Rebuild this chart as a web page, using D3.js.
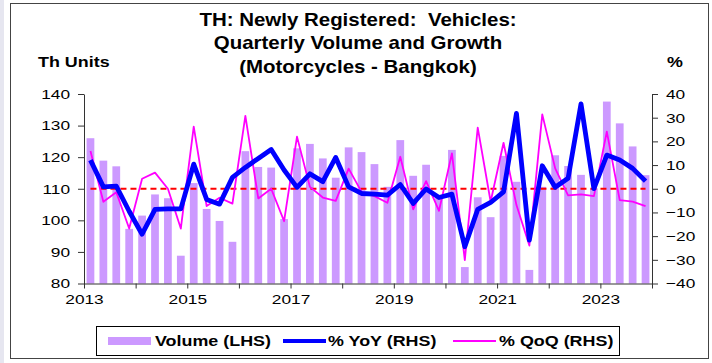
<!DOCTYPE html>
<html>
<head>
<meta charset="utf-8">
<script src="https://cdn.jsdelivr.net/npm/d3@7"></script>
<style>
  html, body { margin: 0; padding: 0; background: #ffffff; }
  svg { display: block; font-family: "Liberation Sans", Arial, sans-serif; }
  text { white-space: pre; }
</style>
</head>
<body>
<svg id="chart" width="712" height="363"></svg>
<script>
// Quarterly series, 2013 Q1 .. 2023 Q4
const quarters = d3.range(44);
const volume = [126.0, 118.9, 117.1, 97.3, 101.5, 108.2, 107.0, 88.8,
                111.8, 103.6, 99.8, 93.2, 121.9, 116.9, 116.7, 100.4,
                122.8, 124.2, 119.6, 113.5, 123.1, 121.6, 117.8, 110.6,
                125.4, 114.1, 117.6, 108.0, 122.3, 85.2, 107.3, 101.0,
                120.4, 112.2, 84.3, 110.6, 120.6, 117.2, 114.4, 110.1,
                137.6, 130.7, 123.4, 114.3];
const yoy = [12.1, 0.8, 1.1, -9.5, -19.2, -8.7, -8.5, -8.5,
             10.4, -4.5, -6.5, 4.8, 9.0, 12.8, 16.6, 7.9,
             0.6, 6.3, 3.0, 13.2, 0.8, -2.0, -2.3, -2.7,
             1.8, -6.2, -0.1, -3.7, -2.3, -24.5, -8.7, -5.8,
             -1.3, 31.8, -21.7, 9.7, 0.6, 4.4, 35.8, 0.1,
             14.2, 12.1, 8.6, 3.2];
const qoq = [15.9, -5.5, -1.5, -16.8, 4.2, 6.8, 0.0, -16.8,
             26.2, -7.3, -3.8, -6.3, 30.8, -4.1, 0.0, -13.7,
             22.0, 0.8, -3.7, -5.1, 8.5, -1.3, -3.1, -5.9,
             13.5, -8.7, 3.2, -9.3, 14.9, -30.1, 25.8, -5.5,
             19.4, -6.9, -24.0, 31.4, 8.6, -2.8, -2.4, -3.1,
             24.1, -4.8, -5.4, -7.3];
const zeroLine = quarters.map(() => 0);

const leftTicks = [80, 90, 100, 110, 120, 130, 140];
const rightTicks = [-40, -30, -20, -10, 0, 10, 20, 30, 40];
const yearTicks = d3.range(2013, 2025);
const yearLabels = [2013, 2015, 2017, 2019, 2021, 2023];

const titleLines = ["TH: Newly Registered:  Vehicles:",
                    "Quarterly Volume and Growth",
                    "(Motorcycles - Bangkok)"];

const svg = d3.select("#chart");
const plotL = 84, plotR = 652, plotT = 94, plotB = 283.5;
const SX = 1.28;      // horizontal text stretch
const SX_TITLE = 1.17;

// place text widened by s while keeping its anchor point at x
const wide = (sel, xPos, s = SX) => sel.attr("x", xPos / s).attr("transform", `scale(${s},1)`);

// page edge and frame
svg.append("rect").attr("x", 0).attr("y", 0).attr("width", 4).attr("height", 363)
  .attr("fill", "#e6e6f0");
svg.append("rect").attr("x", 10.5).attr("y", 3.5).attr("width", 698).attr("height", 355)
  .attr("fill", "#ffffff").attr("stroke", "#444").attr("stroke-width", 1);

// scales
const x = d3.scaleBand().domain(quarters).range([plotL, plotR])
  .paddingInner(0.4).paddingOuter(0.2);
const cx = i => x(i) + x.bandwidth() / 2;
const yL = d3.scaleLinear().domain([80, 140]).range([plotB, plotT]);
const yR = d3.scaleLinear().domain([-40, 40]).range([plotB, plotT]);
const xt = d3.scaleLinear().domain([2013, 2024]).range([plotL, plotR]);

// bars
svg.append("g").selectAll("rect").data(quarters).join("rect")
  .attr("x", i => x(i)).attr("width", x.bandwidth())
  .attr("y", i => yL(volume[i])).attr("height", i => plotB - yL(volume[i]))
  .attr("fill", "#cc99ff");

// zero reference
svg.append("path").datum(quarters)
  .attr("d", d3.line().x(cx).y(i => yR(zeroLine[i])))
  .attr("fill", "none").attr("stroke", "#ff0000").attr("stroke-width", 2)
  .attr("stroke-dasharray", "6,4");

// QoQ line
svg.append("path").datum(quarters)
  .attr("d", d3.line().x(cx).y(i => yR(qoq[i])))
  .attr("fill", "none").attr("stroke", "#ff00ff").attr("stroke-width", 1.8)
  .attr("stroke-linejoin", "round");

// YoY line
svg.append("path").datum(quarters)
  .attr("d", d3.line().x(cx).y(i => yR(yoy[i])))
  .attr("fill", "none").attr("stroke", "#0000ff").attr("stroke-width", 4.8)
  .attr("stroke-linejoin", "round");

// axes
const styleAxis = g => {
  g.select(".domain").attr("stroke", "#333");
  g.selectAll(".tick line").attr("stroke", "#333");
  g.selectAll(".tick text").attr("fill", "#000").attr("font-size", 13.5)
    .attr("font-family", "Liberation Sans, Arial, sans-serif")
    .each(function () {
      const t = d3.select(this);
      wide(t, +t.attr("x") || 0);
    });
};
svg.append("g").attr("transform", `translate(${plotL},0)`)
  .call(d3.axisLeft(yL).tickValues(leftTicks).tickSize(6).tickSizeOuter(0).tickPadding(8))
  .call(styleAxis);
svg.append("g").attr("transform", `translate(${plotR},0)`)
  .call(d3.axisRight(yR).tickValues(rightTicks).tickSize(6).tickSizeOuter(0).tickPadding(8))
  .call(styleAxis);
svg.append("g").attr("transform", `translate(0,${plotB})`)
  .call(d3.axisBottom(xt).tickValues(yearTicks).tickSize(5).tickSizeOuter(0).tickPadding(6)
    .tickFormat(d => yearLabels.includes(d) ? String(d) : ""))
  .call(styleAxis);

// titles
const title = svg.append("text").attr("text-anchor", "middle")
  .attr("font-weight", "bold").attr("font-size", 17.5).attr("fill", "#000")
  .attr("transform", `scale(${SX_TITLE},1)`);
titleLines.forEach((t, k) => {
  title.append("tspan").attr("x", 358 / SX_TITLE).attr("y", 26 + k * 23.5).text(t);
});
svg.append("text").attr("y", 67).attr("font-weight", "bold")
  .attr("font-size", 14).text("Th Units").call(wide, 38);
svg.append("text").attr("y", 67).attr("font-weight", "bold")
  .attr("font-size", 14).text("%").call(wide, 667);

// legend
const lg = svg.append("g");
lg.append("rect").attr("x", 96.5).attr("y", 326.5).attr("width", 523).attr("height", 29)
  .attr("fill", "#fff").attr("stroke", "#000").attr("stroke-width", 1);
lg.append("rect").attr("x", 108).attr("y", 337).attr("width", 43).attr("height", 8)
  .attr("fill", "#cc99ff");
lg.append("line").attr("x1", 283).attr("x2", 326).attr("y1", 341).attr("y2", 341)
  .attr("stroke", "#0000ff").attr("stroke-width", 4);
lg.append("line").attr("x1", 453).attr("x2", 496).attr("y1", 341).attr("y2", 341)
  .attr("stroke", "#ff00ff").attr("stroke-width", 1.8);
const legendText = [["Volume (LHS)", 155], ["% YoY (RHS)", 328], ["% QoQ (RHS)", 499]];
legendText.forEach(([t, lx]) => {
  lg.append("text").attr("y", 346.5).attr("font-weight", "bold")
    .attr("font-size", 14).text(t).call(wide, lx);
});
</script>
</body>
</html>
